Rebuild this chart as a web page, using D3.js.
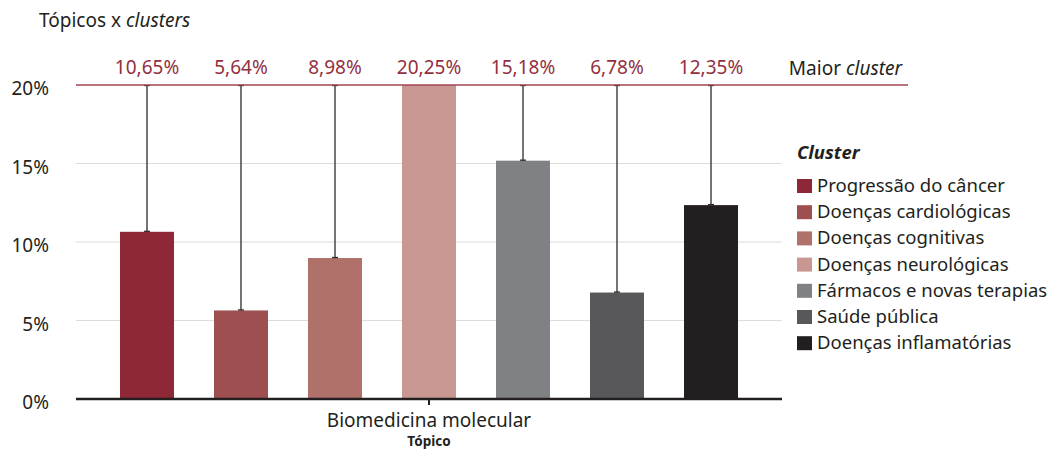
<!DOCTYPE html>
<html><head><meta charset="utf-8">
<script src="https://cdn.jsdelivr.net/npm/d3@7"></script>
<style>body{margin:0;background:#fff}svg{display:block}text{font-family:"Noto Sans",sans-serif;fill:#231f20}</style>
</head><body><svg id="c" width="1053" height="449"></svg>
<script>
const topics = ["Biomedicina molecular"];
const clusters = ["Progressão do câncer","Doenças cardiológicas","Doenças cognitivas","Doenças neurológicas","Fármacos e novas terapias","Saúde pública","Doenças inflamatórias"];
const values = [10.65, 5.64, 8.98, 20.25, 15.18, 6.78, 12.35];
const valueLabels = ["10,65%","5,64%","8,98%","20,25%","15,18%","6,78%","12,35%"];
const colors = ["#8e2836","#9e4f4f","#b0716b","#c99791","#808185","#58585a","#231f20"];
const yTicks = [0, 5, 10, 15, 20];
const maxLine = 20;

const svg = d3.select("#c");
const y = d3.scaleLinear().domain([0, 20]).range([399, 85]).clamp(true);
const x0 = d3.scaleBand().domain(topics).range([76, 782]);
const x1 = d3.scaleBand().domain(clusters).range([0, x0.bandwidth()]).paddingInner(40/94).paddingOuter(0.468);

// gridlines
svg.append("g").selectAll("line").data(yTicks.filter(d => d > 0 && d < 20)).join("line")
  .attr("x1", 76).attr("x2", 782).attr("y1", d => y(d)).attr("y2", d => y(d))
  .attr("stroke", "#dcdcdc").attr("stroke-width", 1.2);

// y axis labels
const yAxis = d3.axisLeft(y).tickValues(yTicks).tickFormat(d => d + "%").tickSize(0).tickPadding(0);
const ya = svg.append("g").attr("transform", "translate(49,3)").call(yAxis);
ya.select(".domain").remove();
ya.selectAll("text").attr("font-size", 19).attr("font-family", "Noto Sans").attr("fill", "#231f20").attr("dy", "0.35em");

const g = svg.append("g").attr("transform", `translate(${x0(topics[0])},0)`);
// bars
g.selectAll("rect").data(values).join("rect")
  .attr("x", (d, i) => x1(clusters[i])).attr("width", x1.bandwidth())
  .attr("y", d => y(d)).attr("height", d => y(0) - y(d))
  .attr("fill", (d, i) => colors[i]);

// error-style lines up to max
const cx = i => x1(clusters[i]) + x1.bandwidth() / 2;
values.forEach((v, i) => {
  if (v >= maxLine) return;
  const e = g.append("g").attr("stroke", "#2a2a2a").attr("stroke-width", 1.3);
  e.append("line").attr("x1", cx(i)).attr("x2", cx(i)).attr("y1", y(maxLine)).attr("y2", y(v));
  e.append("line").attr("x1", cx(i) - 3).attr("x2", cx(i) + 3).attr("y1", y(maxLine) + 0.5).attr("y2", y(maxLine) + 0.5);
  e.append("line").attr("x1", cx(i) - 3).attr("x2", cx(i) + 3).attr("y1", y(v) - 0.5).attr("y2", y(v) - 0.5);
});

// value labels
g.selectAll("text.v").data(valueLabels).join("text").attr("class", "v")
  .attr("x", (d, i) => cx(i)).attr("y", 74).attr("text-anchor", "middle")
  .attr("font-size", 19).style("fill", "#93303f").text(d => d);

// max line
svg.append("line").attr("x1", 76).attr("x2", 908).attr("y1", y(maxLine)).attr("y2", y(maxLine))
  .attr("stroke", "#a04552").attr("stroke-width", 1.5);
const mt = svg.append("text").attr("x", 902).attr("y", 75).attr("text-anchor", "end").attr("font-size", 19);
mt.append("tspan").text("Maior ");
mt.append("tspan").attr("font-style", "italic").text("cluster");

// x axis
const xAxis = d3.axisBottom(x0).tickSize(6).tickPadding(0);
const xa = svg.append("g").attr("transform", `translate(0,${y(0)})`).call(xAxis);
xa.select(".domain").attr("stroke", "#231f20").attr("stroke-width", 2.7).attr("d", "M76,0H782");
xa.selectAll(".tick line").attr("stroke", "#231f20").attr("stroke-width", 2);
xa.selectAll("text").attr("font-size", 19).attr("font-family", "Noto Sans").attr("fill", "#231f20")
  .attr("dy", null).attr("y", 28);
svg.append("text").attr("x", x0(topics[0]) + x0.bandwidth() / 2).attr("y", 446).attr("text-anchor", "middle")
  .attr("font-size", 13.5).attr("font-weight", "bold").text("Tópico");

// title
const t = svg.append("text").attr("x", 39).attr("y", 27).attr("font-size", 19);
t.append("tspan").text("Tópicos x ");
t.append("tspan").attr("font-style", "italic").text("clusters");

// legend
svg.append("text").attr("x", 797).attr("y", 159).attr("font-size", 18.5).attr("font-weight", "bold").attr("font-style", "italic").text("Cluster");
const lg = svg.append("g").selectAll("g").data(clusters).join("g")
  .attr("transform", (d, i) => `translate(797,${186 + i * 26.2})`);
lg.append("rect").attr("x", 0).attr("y", -7).attr("width", 15).attr("height", 14).attr("fill", (d, i) => colors[i]);
lg.append("text").attr("x", 20).attr("y", 6).attr("font-size", 18.5).text(d => d);
</script></body></html>
